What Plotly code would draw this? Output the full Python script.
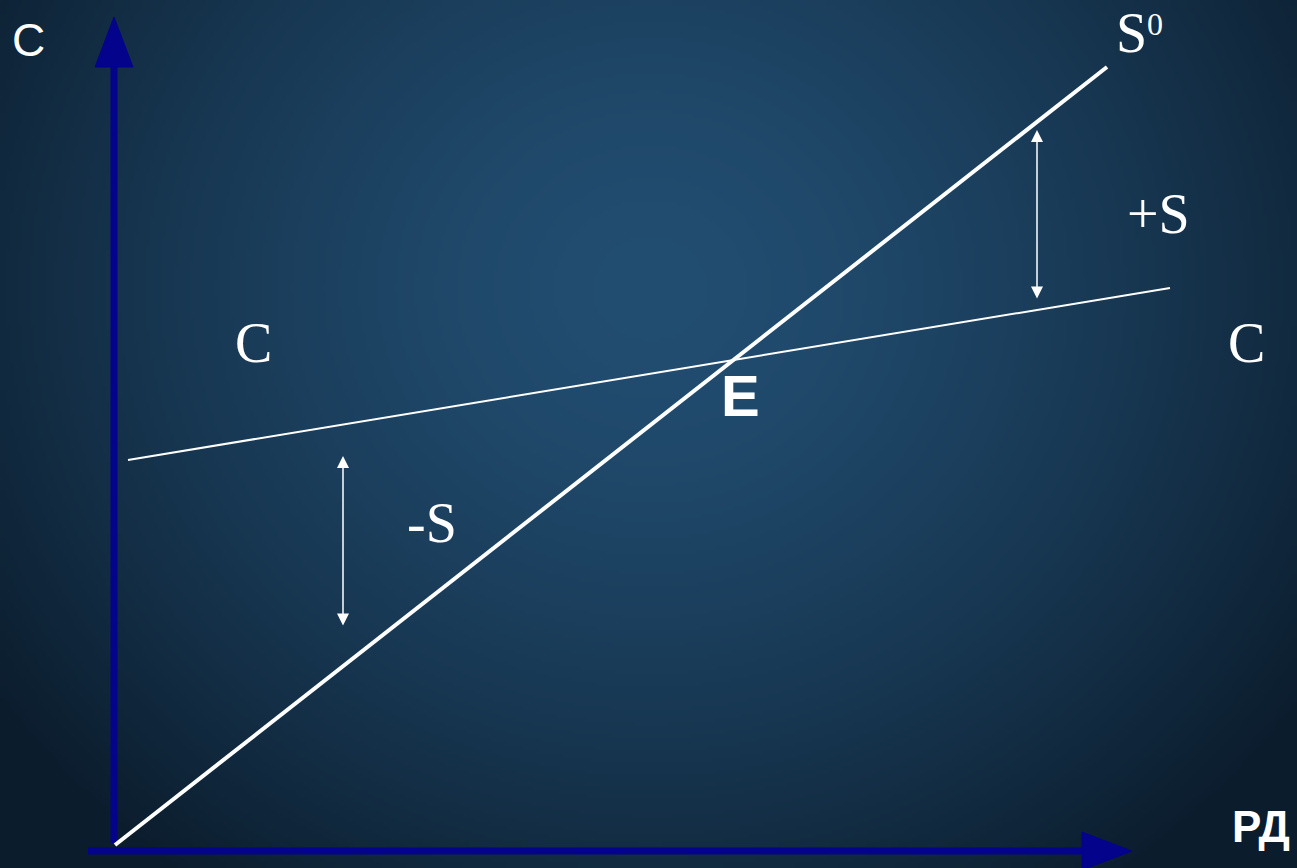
import base64, struct, zlib
import numpy as np
import plotly.graph_objects as go

# ---------------- data (model units) ----------------
s0_x = [0.0, 9.92]          # S0 line
s0_y = [0.03, 7.81]
c_x = [0.13, 10.55]         # C line
c_y = [3.88, 5.60]
plus_s_x = 9.22             # +S gap arrow
plus_s_y = [7.18, 5.48]
minus_s_x = 2.28            # -S gap arrow
minus_s_y = [3.92, 2.21]
yaxis_line_x = -0.01
yaxis_line_y = [0.05, 8.31]
xaxis_line_y = -0.03
xaxis_line_x = [-0.27, 10.17]

labels_serif = ["C", "C", "+S", "-S", "S"]
labels_serif_x = [1.38, 11.31, 10.43, 3.17, 10.16]
labels_serif_y = [5.05, 5.05, 6.34, 3.25, 8.15]
sup_label = "0"
sup_x, sup_y = 10.40, 8.24

# ---------------- background image (vignette) ----------------
W, H = 324, 217
yy, xx = np.mgrid[0:H, 0:W]
cx, cy = W * 0.5, H * 0.33
d = np.sqrt(((xx - cx) / (W * 0.62)) ** 2 + ((yy - cy) / (H * 0.85)) ** 2)
t = np.clip(d, 0, 1) ** 1.5
c0 = np.array([34, 78, 114], float)
c1 = np.array([11, 28, 44], float)
img = (c0[None, None, :] * (1 - t[..., None]) + c1[None, None, :] * t[..., None]).astype(np.uint8)
raw = b"".join(b"\x00" + img[r].tobytes() for r in range(H))

def chunk(tag, data):
    c = struct.pack(">I", len(data)) + tag + data
    return c + struct.pack(">I", zlib.crc32(tag + data) & 0xffffffff)

png = b"\x89PNG\r\n\x1a\n" + chunk(b"IHDR", struct.pack(">IIBBBBB", W, H, 8, 2, 0, 0, 0)) \
    + chunk(b"IDAT", zlib.compress(raw, 9)) + chunk(b"IEND", b"")
bg_uri = "data:image/png;base64," + base64.b64encode(png).decode()

# ---------------- figure ----------------
AX_COL = "#03038c"
fig = go.Figure()

# axes lines
fig.add_trace(go.Scatter(x=[yaxis_line_x, yaxis_line_x], y=[yaxis_line_y[0], yaxis_line_y[1] - 0.45],
                         mode="lines", line=dict(color=AX_COL, width=7), hoverinfo="skip"))
fig.add_trace(go.Scatter(x=[xaxis_line_x[0], xaxis_line_x[1] - 0.45], y=[xaxis_line_y, xaxis_line_y],
                         mode="lines", line=dict(color=AX_COL, width=7), hoverinfo="skip"))
# arrowheads (triangles)
HL, HW = 0.50, 0.19
tipy = yaxis_line_y[1]
fig.add_trace(go.Scatter(x=[yaxis_line_x, yaxis_line_x - HW, yaxis_line_x + HW, yaxis_line_x],
                         y=[tipy, tipy - HL, tipy - HL, tipy], mode="lines", fill="toself",
                         fillcolor=AX_COL, line=dict(color=AX_COL, width=1), hoverinfo="skip"))
tipx = xaxis_line_x[1]
fig.add_trace(go.Scatter(x=[tipx, tipx - HL, tipx - HL, tipx],
                         y=[xaxis_line_y, xaxis_line_y + HW, xaxis_line_y - HW, xaxis_line_y],
                         mode="lines", fill="toself",
                         fillcolor=AX_COL, line=dict(color=AX_COL, width=1), hoverinfo="skip"))

# S0 and C lines
fig.add_trace(go.Scatter(x=s0_x, y=s0_y, mode="lines", line=dict(color="white", width=4), hoverinfo="skip"))
fig.add_trace(go.Scatter(x=c_x, y=c_y, mode="lines", line=dict(color="white", width=2), hoverinfo="skip"))

# double-headed gap arrows
for ax_x, ys in [(plus_s_x, plus_s_y), (minus_s_x, minus_s_y)]:
    fig.add_annotation(x=ax_x, y=ys[0], ax=ax_x, ay=ys[1], xref="x", yref="y", axref="x", ayref="y",
                       text="", showarrow=True, arrowside="end+start", arrowhead=2,
                       arrowsize=1.6, arrowwidth=1.5, arrowcolor="white")

# text labels
serif = "Liberation Serif, Times New Roman, serif"
sans = "Liberation Sans, Arial, sans-serif"
for t_, x_, y_ in zip(labels_serif, labels_serif_x, labels_serif_y):
    fig.add_annotation(x=x_, y=y_, text=t_, showarrow=False, xanchor="center", yanchor="middle",
                       font=dict(family=serif, size=56, color="white"))
fig.add_annotation(x=sup_x, y=sup_y, text=sup_label, showarrow=False, xanchor="center", yanchor="middle",
                   font=dict(family=serif, size=32, color="white"))
fig.add_annotation(x=6.25, y=4.53, text="<b>E</b>", showarrow=False, xanchor="center", yanchor="middle",
                   font=dict(family=sans, size=58, color="white"))
fig.add_annotation(x=0.972, y=0.048, xref="paper", yref="paper", text="<b>РД</b>", showarrow=False,
                   xanchor="center", yanchor="middle",
                   font=dict(family=sans, size=44, color="white"))
fig.add_annotation(x=0.0216, y=0.954, xref="paper", yref="paper", text="C", showarrow=False,
                   xanchor="center", yanchor="middle",
                   font=dict(family=sans, size=46, color="white"))

fig.update_layout(
    width=1297, height=868, margin=dict(l=0, r=0, t=0, b=0),
    showlegend=False,
    paper_bgcolor="#163a58", plot_bgcolor="rgba(0,0,0,0)",
    xaxis=dict(range=[-1.15, 11.82], visible=False, fixedrange=True),
    yaxis=dict(range=[-0.2, 8.48], visible=False, fixedrange=True),
    images=[dict(source=bg_uri, xref="paper", yref="paper", x=0, y=1, sizex=1, sizey=1,
                 sizing="stretch", layer="below", xanchor="left", yanchor="top")],
)
fig.write_html("out.html", config={"displayModeBar": False},
               post_script="document.body.style.margin='0';document.body.style.overflow='hidden';")
